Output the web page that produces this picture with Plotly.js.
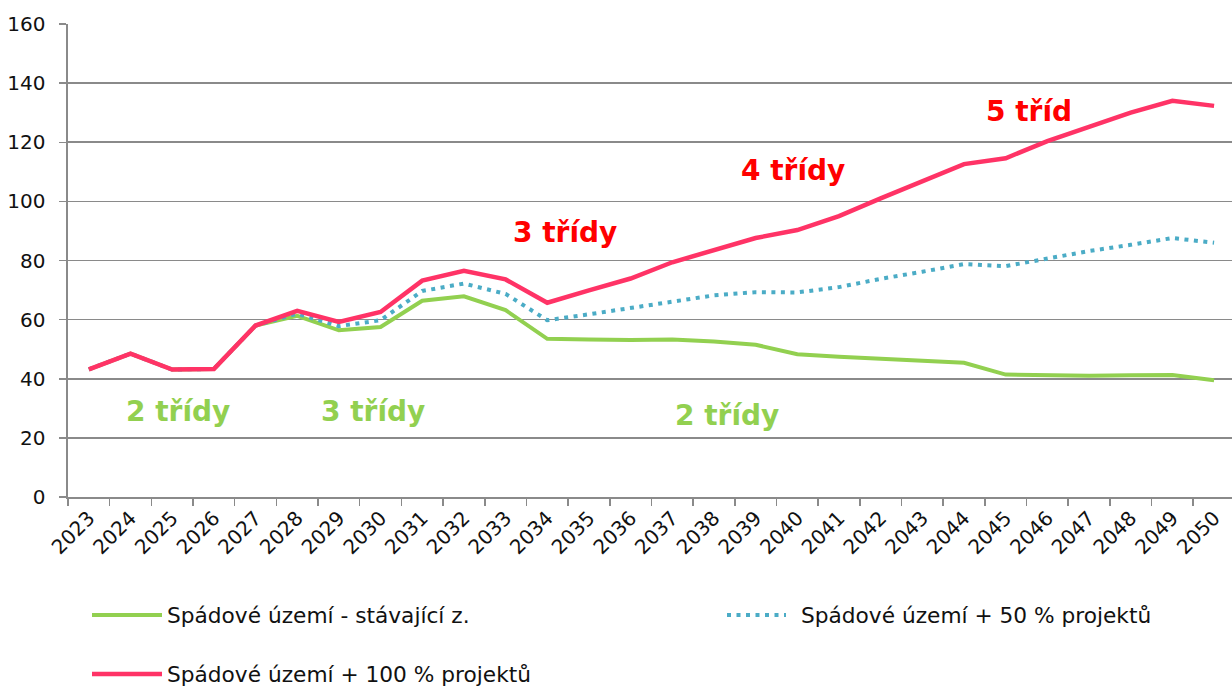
<!DOCTYPE html>
<html>
<head>
<meta charset="utf-8">
<script src="https://cdn.plot.ly/plotly-3.0.1.min.js"></script>
<style>
  html, body { margin: 0; padding: 0; background: #fff; }
  #chart { width: 1232px; height: 686px; }
</style>
</head>
<body>
<div id="chart"></div>
<script>
// data
const years = ['2023', '2024', '2025', '2026', '2027', '2028', '2029', '2030', '2031', '2032',
  '2033', '2034', '2035', '2036', '2037', '2038', '2039', '2040', '2041', '2042',
  '2043', '2044', '2045', '2046', '2047', '2048', '2049', '2050'];

const stavajici = [43.2, 48.5, 43.1, 43.3, 58.0, 61.3, 56.4, 57.5, 66.4, 67.9,
  63.2, 53.5, 53.3, 53.1, 53.3, 52.6, 51.5, 48.3, 47.4, 46.8,
  46.1, 45.4, 41.4, 41.1, 41.0, 41.2, 41.3, 39.5];

const projekty50 = [43.2, 48.5, 43.1, 43.3, 58.0, 62.0, 57.8, 59.8, 69.7, 72.2,
  68.7, 59.8, 61.8, 63.9, 66.3, 68.2, 69.3, 69.2, 71.0, 73.8,
  76.2, 78.8, 78.1, 80.7, 83.2, 85.3, 87.6, 86.0];

const projekty100 = [43.2, 48.5, 43.1, 43.3, 58.0, 63.0, 59.2, 62.6, 73.2, 76.5,
  73.6, 65.7, 69.9, 73.9, 79.4, 83.5, 87.6, 90.3, 95.0, 101.0,
  106.8, 112.6, 114.6, 120.4, 125.2, 130.0, 134.0, 132.3];

const seriesNames = [
  'Spádové území - stávající z.',
  'Spádové území + 50 % projektů',
  'Spádové území + 100 % projektů'
];

const yTicks = [0, 20, 40, 60, 80, 100, 120, 140, 160];

const GREEN = '#92d050';
const BLUE = '#4bacc6';
const PINK = '#ff3366';
const RED = '#ff0000';
const GRID = '#8a8a8a';
const FONT = 'DejaVu Sans, Verdana, sans-serif';
const DOTS = '4px,5.5px';

const traces = [
  { x: years, y: stavajici, name: seriesNames[0], line: { color: GREEN, width: 4 } },
  { x: years, y: projekty50, name: seriesNames[1], line: { color: BLUE, width: 4, dash: DOTS } },
  { x: years, y: projekty100, name: seriesNames[2], line: { color: PINK, width: 4.5 } }
].map(t => Object.assign({ type: 'scatter', mode: 'lines', hoverinfo: 'skip' }, t));

// plot area in pixels, used to place the hand-made legend
const L = 68, T = 24, B = 189, W = 1232, H = 686;
const px = x => (x - L) / (W - L);
const py = y => (H - B - y) / (H - B - T);

// label over the chart: text, category index, value, colour
function classLabel(text, xi, yv, color) {
  return {
    x: xi, y: yv, xref: 'x', yref: 'y', text: text, showarrow: false,
    xanchor: 'center', yanchor: 'middle',
    font: { family: FONT, size: 28, color: color, weight: 'bold' }
  };
}

const annotations = [
  classLabel('<b>2 třídy</b>', 2.13, 28.8, GREEN),
  classLabel('<b>3 třídy</b>', 6.83, 28.8, GREEN),
  classLabel('<b>2 třídy</b>', 15.32, 27.7, GREEN),
  classLabel('<b>3 třídy</b>', 11.43, 89.6, RED),
  classLabel('<b>4 třídy</b>', 16.9, 110.4, RED),
  classLabel('<b>5 tříd</b>', 22.55, 130.3, RED)
];

// legend: swatch line + text
const legendItems = [
  { name: seriesNames[0], x0: 92, x1: 162, tx: 168, y: 615, line: { color: GREEN, width: 4 } },
  { name: seriesNames[1], x0: 727, x1: 786, tx: 802, y: 615, line: { color: BLUE, width: 4, dash: DOTS } },
  { name: seriesNames[2], x0: 92, x1: 162, tx: 168, y: 674, line: { color: PINK, width: 4.5 } }
];

const shapes = [];
legendItems.forEach(item => {
  shapes.push({
    type: 'line', xref: 'paper', yref: 'paper',
    x0: px(item.x0), x1: px(item.x1), y0: py(item.y), y1: py(item.y),
    line: item.line
  });
  annotations.push({
    x: px(item.tx), y: py(item.y), xref: 'paper', yref: 'paper',
    text: item.name, showarrow: false, xanchor: 'left', yanchor: 'middle',
    xshift: -3,
    font: { family: FONT, size: 21.7, color: '#111' }
  });
});

const layout = {
  width: W,
  height: H,
  margin: { l: L, r: 0, t: T, b: B, pad: 0 },
  paper_bgcolor: '#ffffff',
  plot_bgcolor: '#ffffff',
  showlegend: false,
  hovermode: false,
  font: { family: FONT, size: 20, color: '#111' },
  xaxis: {
    type: 'category',
    range: [-0.5, 27.43],
    tickangle: -45,
    ticks: 'outside',
    tickson: 'boundaries',
    ticklen: 7,
    tickwidth: 1.5,
    tickcolor: GRID,
    showgrid: false,
    showline: true,
    linecolor: GRID,
    linewidth: 1.5,
    zeroline: false,
    tickfont: { family: FONT, size: 20, color: '#111' }
  },
  yaxis: {
    range: [0, 160],
    tickvals: yTicks,
    ticks: 'outside',
    ticklen: 7,
    tickwidth: 1.5,
    tickcolor: GRID,
    ticklabelstandoff: 10,
    showgrid: true,
    gridcolor: GRID,
    gridwidth: 1.6,
    showline: true,
    linecolor: GRID,
    linewidth: 1.6,
    zeroline: false,
    tickfont: { family: FONT, size: 20, color: '#111' }
  },
  shapes: shapes,
  annotations: annotations
};

Plotly.newPlot('chart', traces, layout, { staticPlot: true, displayModeBar: false });
</script>
</body>
</html>
